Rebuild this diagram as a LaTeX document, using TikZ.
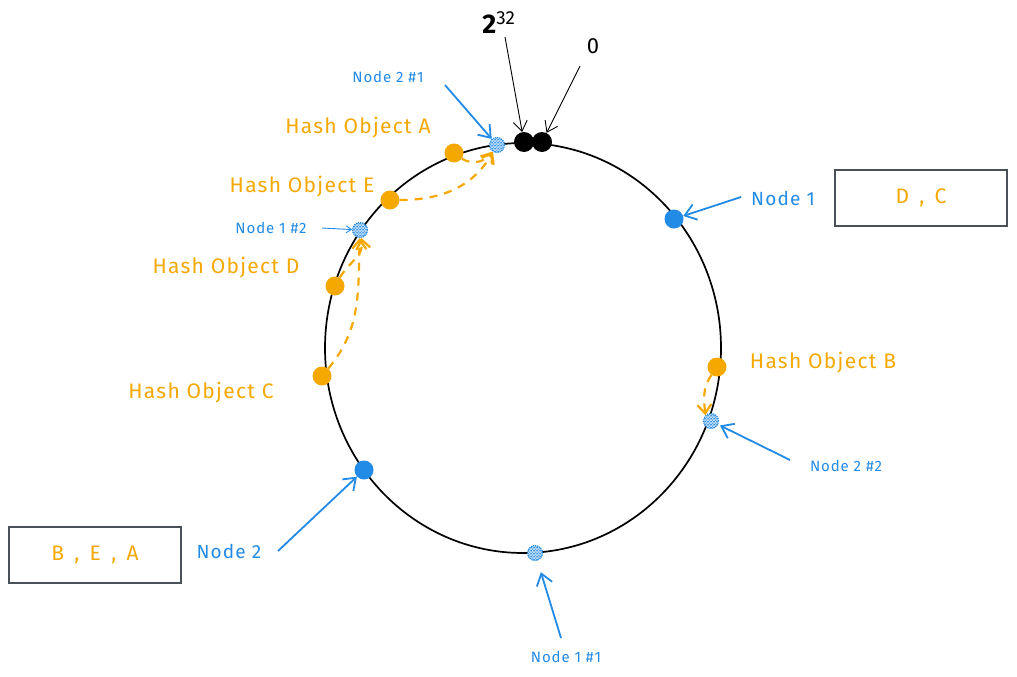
\documentclass[tikz,border=0pt]{standalone}
\usepackage{fontspec}
\setmainfont{Fira Sans}
\usetikzlibrary{arrows.meta,patterns}
\definecolor{orng}{HTML}{F5A800}
\definecolor{blu}{HTML}{228BE6}
\definecolor{boxgray}{HTML}{495057}
\begin{document}
\begin{tikzpicture}[x=1pt,y=-1pt,
  otxt/.style={text=orng,font=\fontsize{21}{23}\selectfont\addfontfeature{LetterSpace=6},inner sep=0pt},
  btxt/.style={text=blu,font=\fontsize{19}{21}\selectfont\addfontfeature{LetterSpace=6},inner sep=0pt},
  bsmall/.style={text=blu,font=\fontsize{15}{17}\selectfont\addfontfeature{LetterSpace=6},inner sep=0pt},
  odot/.style={circle,fill=orng,minimum size=19pt,inner sep=0pt},
  bdot/.style={circle,fill=blu,minimum size=19pt,inner sep=0pt},
  kdot/.style={circle,fill=black,minimum size=20pt,inner sep=0pt},
  hatch/.style={circle,minimum size=15pt,inner sep=0pt,fill=blu!30,
     postaction={pattern=crosshatch,pattern color=blu},
     draw=blu,densely dotted,line width=1.1pt},
  barrow/.style={draw=blu,line width=1.8pt,-{Straight Barb[length=11pt,width=16pt]}},
  karrow/.style={draw=black,line width=0.9pt,-{Straight Barb[length=10pt,width=14pt]}},
  darrow/.style={draw=orng,line width=2.2pt,dash pattern=on 8pt off 7pt,-{Straight Barb[length=9pt,width=14pt]}},
  boxst/.style={draw=boxgray,line width=1.6pt,minimum width=172pt,minimum height=56pt,text=orng,font=\fontsize{21}{23}\selectfont\addfontfeature{LetterSpace=6}}
]
\useasboundingbox (0,0) rectangle (1017,677);
\fill[white] (0,0) rectangle (1017,677);

% ring
\draw[line width=1.7pt] (523,348) ellipse [x radius=198, y radius=205];

% 0 / 2^32
\node[kdot] (z1) at (524,142) {};
\node[kdot] (z0) at (542,142) {};
\node[font=\fontsize{27}{29}\selectfont\bfseries,inner sep=0pt] (l232) at (499,23) {2\textsuperscript{\mdseries 32}};
\node[font=\fontsize{22}{24}\selectfont,inner sep=0pt] (l0) at (593,46) {0};
\coordinate (s232) at (505,37);
\coordinate (s0) at (580,66);
\draw[karrow] (s232) -- (z1);
\draw[karrow] (s0) -- (z0);

% virtual nodes (hatched)
\node[hatch] (h21) at (497,145) {};
\node[hatch] (h12) at (360,230) {};
\node[hatch] (h22) at (711,421) {};
\node[hatch] (h11) at (535,553) {};

% real nodes
\node[bdot] (n1d) at (674,219) {};
\node[bdot] (n2d) at (364,470) {};

% hash objects
\node[odot] (oA) at (454,153) {};
\node[odot] (oE) at (390,200) {};
\node[odot] (oD) at (335,286) {};
\node[odot] (oC) at (322,376) {};
\node[odot] (oB) at (717,367) {};

\node[otxt] (tA) at (358,128) {Hash Object A};
\node[otxt] (tE) at (302,187) {Hash Object E};
\node[otxt] (tD) at (226,268) {Hash Object D};
\node[otxt] (tC) at (201,393) {Hash Object C};
\node[otxt] (tB) at (823,363) {Hash Object B};

% blue labels
\node[bsmall] (l21) at (388,77) {Node 2 \#1};
\node[bsmall] (l12) at (271,228) {Node 1 \#2};
\node[bsmall] (l22) at (846,466) {Node 2 \#2};
\node[bsmall] (l11) at (566,657) {Node 1 \#1};
\node[btxt] (ln1) at (783,198) {Node 1};
\node[btxt] (ln2) at (229,551) {Node 2};

\coordinate (s21) at (445,85);
\coordinate (s22) at (790,460);
\coordinate (s11) at (561,638);
\coordinate (sn1) at (741,197);
\coordinate (sn2) at (278,551);
\coordinate (s12) at (322,228);
\draw[barrow] (s21) -- (h21);
\draw[barrow,shorten >=2pt] (s22) -- (h22);
\draw[barrow,shorten >=12pt] (s11) -- (h11);
\draw[barrow] (sn1) -- (n1d);
\draw[barrow] (sn2) -- (n2d);
\draw[draw=blu,line width=0.9pt,-{Straight Barb[length=5pt,width=7pt]}] (s12) -- (h12);

% dashed mapping arrows
\draw[darrow] (oA) to[out=-35,in=235] (h21);
\draw[darrow] (oE) to[out=0,in=240] (h21);
\draw[darrow] (oD) to[out=60,in=-80] (h12);
\draw[darrow] (oC) to[out=50,in=-92] (h12);
\draw[darrow] (oB) to[out=235,in=95] (h22.north west);

% boxes
\node[boxst] (bDC) at (921,198) {D \,,\, C};
\node[boxst] (bBEA) at (95,555) {B \,,\, E \,,\, A};
\end{tikzpicture}
\end{document}
